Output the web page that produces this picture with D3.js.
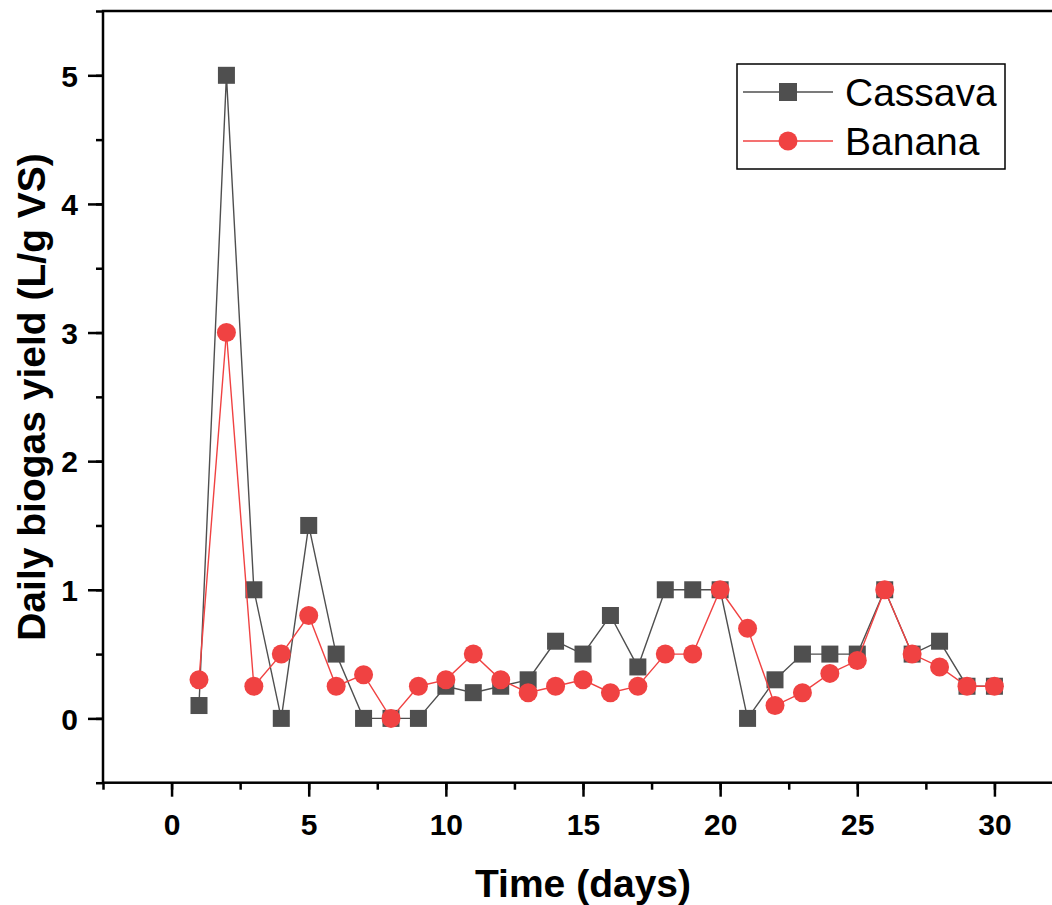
<!DOCTYPE html>
<html>
<head>
<meta charset="utf-8">
<script src="https://cdn.jsdelivr.net/npm/d3@7"></script>
<style>
  body { margin: 0; background: #fff; }
  svg { display: block; font-family: Arial, "Liberation Sans", sans-serif; }
</style>
</head>
<body>
<script>
// days 1..30
let days = d3.range(1, 31);
let cassava = [0.1, 5, 1, 0, 1.5, 0.5, 0, 0, 0, 0.25,
               0.2, 0.25, 0.3, 0.6, 0.5, 0.8, 0.4, 1, 1, 1,
               0, 0.3, 0.5, 0.5, 0.5, 1, 0.5, 0.6, 0.25, 0.25];
let banana = [0.3, 3, 0.25, 0.5, 0.8, 0.25, 0.34, 0, 0.25, 0.3,
              0.5, 0.3, 0.2, 0.25, 0.3, 0.2, 0.25, 0.5, 0.5, 1,
              0.7, 0.1, 0.2, 0.35, 0.45, 1, 0.5, 0.4, 0.25, 0.25];
let xTicks = [0, 5, 10, 15, 20, 25, 30];
let yTicks = [0, 1, 2, 3, 4, 5];

let w = 1052, h = 905;
let padL = 103, padR = 1063, padT = 11, padB = 782.7;

let x = d3.scaleLinear().domain([-2.5, 32.5]).range([padL, padR]);
let y = d3.scaleLinear().domain([-0.5, 5.5]).range([padB, padT]);

let svg = d3.select("body").append("svg")
  .attr("width", w)
  .attr("height", h);

// frame
svg.append("rect")
  .attr("x", padL).attr("y", padT)
  .attr("width", padR - padL).attr("height", padB - padT)
  .attr("fill", "none").attr("stroke", "#000").attr("stroke-width", 2.5);

// x axis
let xAxis = svg.append("g").attr("transform", `translate(0,${padB})`);
xAxis.call(d3.axisBottom(x).tickValues(d3.range(-2.5, 33, 2.5)).tickSize(7).tickFormat(""))
  .call(g => g.select(".domain").remove())
  .selectAll("line").attr("stroke-width", 2.5);
let xMaj = svg.append("g").attr("transform", `translate(0,${padB})`);
xMaj.call(d3.axisBottom(x).tickValues(xTicks).tickSize(14).tickFormat(d3.format("d")))
  .call(g => g.select(".domain").remove())
  .call(g => g.selectAll("line").attr("stroke-width", 2.5))
  .call(g => g.selectAll("text")
    .attr("y", 52).attr("dy", null)
    .attr("font-size", 30).attr("font-weight", "bold").attr("fill", "#000")
    .attr("font-family", "Arial, 'Liberation Sans', sans-serif"));

// y axis
let yAxis = svg.append("g").attr("transform", `translate(${padL},0)`);
yAxis.call(d3.axisLeft(y).tickValues(d3.range(-0.5, 5.6, 0.5)).tickSize(7).tickFormat(""))
  .call(g => g.select(".domain").remove())
  .selectAll("line").attr("stroke-width", 2.5);
let yMaj = svg.append("g").attr("transform", `translate(${padL},0)`);
yMaj.call(d3.axisLeft(y).tickValues(yTicks).tickSize(15).tickFormat(d3.format("d")))
  .call(g => g.select(".domain").remove())
  .call(g => g.selectAll("line").attr("stroke-width", 2.5))
  .call(g => g.selectAll("text")
    .attr("x", -25).attr("dy", "0.36em")
    .attr("font-size", 30).attr("font-weight", "bold").attr("fill", "#000")
    .attr("font-family", "Arial, 'Liberation Sans', sans-serif"));

// axis titles
svg.append("text")
  .attr("x", 583).attr("y", 897)
  .attr("text-anchor", "middle")
  .attr("font-size", 39).attr("font-weight", "bold")
  .text("Time (days)");

svg.append("text")
  .attr("transform", "translate(45,397) rotate(-90)")
  .attr("text-anchor", "middle")
  .attr("font-size", 39).attr("font-weight", "bold")
  .text("Daily biogas yield (L/g VS)");

let grey = "#4f4f4f", red = "#f04242";
let line = d3.line().x((d, i) => x(days[i])).y(d => y(d));

// Cassava
svg.append("path").datum(cassava)
  .attr("d", line).attr("fill", "none")
  .attr("stroke", grey).attr("stroke-width", 1.4);
svg.selectAll("rect.cas").data(cassava).enter().append("rect")
  .attr("class", "cas")
  .attr("x", (d, i) => x(days[i]) - 8.5)
  .attr("y", d => y(d) - 8.5)
  .attr("width", 17).attr("height", 17)
  .attr("fill", grey);

// Banana
svg.append("path").datum(banana)
  .attr("d", line).attr("fill", "none")
  .attr("stroke", red).attr("stroke-width", 1.4);
svg.selectAll("circle.ban").data(banana).enter().append("circle")
  .attr("class", "ban")
  .attr("cx", (d, i) => x(days[i]))
  .attr("cy", d => y(d))
  .attr("r", 9.5)
  .attr("fill", red);

// legend
let lg = svg.append("g");
lg.append("rect")
  .attr("x", 737).attr("y", 64).attr("width", 268).attr("height", 105)
  .attr("fill", "#fff").attr("stroke", "#000").attr("stroke-width", 1.5);
let items = [
  { name: "Cassava", color: grey, shape: "square", yy: 92 },
  { name: "Banana", color: red, shape: "circle", yy: 141 }
];
items.forEach(it => {
  lg.append("line")
    .attr("x1", 743).attr("x2", 833).attr("y1", it.yy).attr("y2", it.yy)
    .attr("stroke", it.color).attr("stroke-width", 1.4);
  if (it.shape === "square") {
    lg.append("rect").attr("x", 779).attr("y", it.yy - 9)
      .attr("width", 18).attr("height", 18).attr("fill", it.color);
  } else {
    lg.append("circle").attr("cx", 788).attr("cy", it.yy).attr("r", 9.5).attr("fill", it.color);
  }
  lg.append("text")
    .attr("x", 845).attr("y", it.yy).attr("dy", "0.36em")
    .attr("font-size", 39)
    .text(it.name);
});
</script>
</body>
</html>
